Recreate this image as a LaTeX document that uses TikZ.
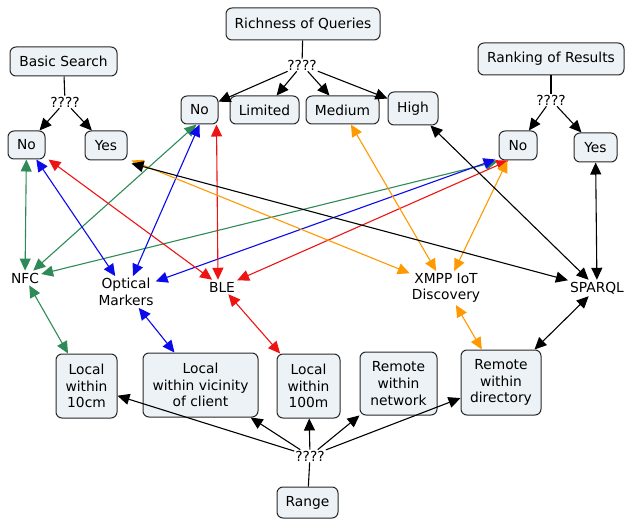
\documentclass[tikz,border=0pt]{standalone}
\usepackage{fontspec}
\setmainfont{DejaVu Sans}
\usetikzlibrary{arrows.meta}
\definecolor{boxfill}{RGB}{236,242,245}
\definecolor{boxline}{RGB}{40,40,40}
\definecolor{cgreen}{RGB}{46,139,87}
\definecolor{cblue}{RGB}{10,10,235}
\definecolor{cred}{RGB}{238,20,20}
\definecolor{corange}{RGB}{255,153,0}
\begin{document}
\begin{tikzpicture}[x=1pt,y=-1pt,
  font=\fontsize{13.8}{16.7}\selectfont,
  box/.style={draw=boxline, fill=boxfill, rounded corners=6pt, line width=1pt, align=center, inner sep=0pt},
  lbl/.style={align=center, inner sep=2pt},
  qq/.style={inner sep=1pt},
  ln/.style={line width=1.1pt, black},
  tip/.style={-{Triangle[length=12pt,width=11pt]}},
  both/.style={{Triangle[length=12pt,width=11pt]}-{Triangle[length=12pt,width=11pt]}, line width=1.1pt}]
\useasboundingbox (0,0) rectangle (625,519);

% top boxes
\node[box, minimum width=154pt, minimum height=32pt] (rq) at (303,24) {Richness of Queries};
\node[box, minimum width=107pt, minimum height=29pt] (bs) at (63.5,61.5) {Basic Search};
\node[box, minimum width=146pt, minimum height=32pt] (rr) at (551,59) {Ranking of Results};

\node[qq] (q1) at (302,65) {????};
\node[qq] (q2) at (65,102) {????};
\node[qq] (q3) at (551,100) {????};

\node[box, minimum width=37pt, minimum height=28pt] (bsno) at (26.5,145) {No};
\node[box, minimum width=42pt, minimum height=29pt] (bsyes) at (106,145.5) {Yes};
\node[box, minimum width=37pt, minimum height=28pt] (rqno) at (199.5,110) {No};
\node[box, minimum width=69pt, minimum height=28pt] (lim) at (264.5,110) {Limited};
\node[box, minimum width=73pt, minimum height=28pt] (med) at (342.5,110) {Medium};
\node[box, minimum width=50pt, minimum height=33pt] (high) at (413,108.5) {High};
\node[box, minimum width=38pt, minimum height=29pt] (rrno) at (518,145.5) {No};
\node[box, minimum width=43pt, minimum height=29pt] (rryes) at (595.5,147.5) {Yes};

% middle labels
\node[lbl] (nfc) at (25,278) {NFC};
\node[lbl] (om) at (126,292) {Optical\\Markers};
\node[lbl] (ble) at (222,287) {BLE};
\node[lbl] (xmpp) at (446,288) {XMPP IoT\\Discovery};
\node[lbl] (sparql) at (597,288) {SPARQL};

% bottom boxes
\node[box, minimum width=61pt, minimum height=64pt] (b1) at (86.5,386) {Local\\within\\10cm};
\node[box, minimum width=115pt, minimum height=64pt] (b2) at (200.5,385) {Local\\within vicinity\\of client};
\node[box, minimum width=63pt, minimum height=64pt] (b3) at (308.5,386) {Local\\within\\100m};
\node[box, minimum width=77pt, minimum height=63pt] (b4) at (398.5,383.5) {Remote\\within\\network};
\node[box, minimum width=80pt, minimum height=65pt] (b5) at (501,382.5) {Remote\\within\\directory};

\node[qq] (q4) at (310,456) {????};
\node[box, minimum width=61pt, minimum height=31pt] (range) at (307.5,502.5) {Range};

% black hierarchy
\draw[ln] (rq) -- (q1);
\draw[ln,tip] (q1) -- (rqno);
\draw[ln,tip] (q1) -- (lim);
\draw[ln,tip] (q1) -- (med);
\draw[ln,tip] (q1) -- (high);
\draw[ln] (bs) -- (q2);
\draw[ln,tip] (q2) -- (bsno);
\draw[ln,tip] (q2) -- (bsyes);
\draw[ln] (rr) -- (q3);
\draw[ln,tip] (q3) -- (rrno);
\draw[ln,tip] (q3) -- (rryes);
\draw[ln] (range) -- (q4);
\draw[ln,tip] (q4) -- (b1);
\draw[ln,tip] (q4) -- (b2);
\draw[ln,tip] (q4) -- (b3);
\draw[ln,tip] (q4) -- (b4);
\draw[ln,tip] (q4) -- (b5);

% NFC (green)
\draw[both,cgreen] (nfc) -- (bsno);
\draw[both,cgreen] (nfc) -- ([xshift=-3pt]rqno.south);
\draw[both,cgreen] (nfc) -- ([xshift=-1pt,yshift=-1pt]rrno.south west);
\draw[both,cgreen] (nfc) -- (b1);
% Optical markers (blue)
\draw[both,cblue] (om) -- (bsno);
\draw[both,cblue] (om) -- (rqno.south);
\draw[both,cblue] (om) -- ([xshift=-3pt,yshift=1pt]rrno.south west);
\draw[both,cblue] (om) -- (b2);
% BLE (red)
\draw[both,cred] (ble) -- ([xshift=3pt]bsno.south east);
\draw[both,cred] ([xshift=-4pt]ble.north) -- ([xshift=-2pt]rqno.south east);
\draw[both,cred] (ble) -- ([xshift=10pt]rrno.south west);
\draw[both,cred] (ble) -- (b3);
% XMPP (orange)
\draw[both,corange] (xmpp) -- ([xshift=4pt]bsyes.south east);
\draw[both,corange] (xmpp) -- (med);
\draw[both,corange] (xmpp) -- ([xshift=9pt]rrno.south west);
\draw[both,corange] (xmpp) -- (b5);
% SPARQL (black)
\draw[both,black] (sparql) -- ([xshift=4pt,yshift=-3pt]bsyes.south east);
\draw[both,black] (sparql) -- (high);
\draw[both,black] (sparql) -- (rryes);
\draw[both,black] (sparql) -- (b5);
\end{tikzpicture}
\end{document}
